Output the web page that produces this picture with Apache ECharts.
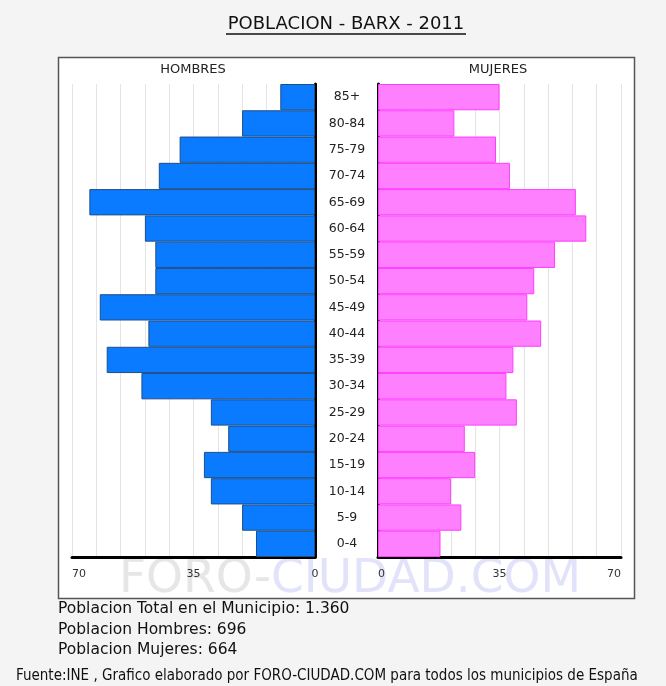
<!DOCTYPE html>
<html>
<head>
<meta charset="UTF-8">
<title>Poblacion Barx 2011</title>
<script src="https://cdn.jsdelivr.net/npm/echarts@6/dist/echarts.min.js"></script>
<style>
  html, body { margin: 0; padding: 0; background: #f4f4f4; }
  #chart { width: 666px; height: 686px; }
</style>
</head>
<body>
<div id="chart"></div>
<script>
// grupos de edad, de abajo (0-4) a arriba (85+)
var edades = ['0-4','5-9','10-14','15-19','20-24','25-29','30-34','35-39','40-44',
              '45-49','50-54','55-59','60-64','65-69','70-74','75-79','80-84','85+'];
var hombres = [17, 21, 30, 32, 25, 30, 50, 60, 48, 62, 46, 46, 49, 65, 45, 39, 21, 10];
var mujeres = [18, 24, 21, 28, 25, 40, 37, 39, 47, 43, 45, 51, 60, 57, 38, 34, 22, 35];
var ejeTicks = [0, 35, 70];

var totalH = 696, totalM = 664;
var fuente = 'DejaVu Sans';

var chart = echarts.init(document.getElementById('chart'));

function etiqueta(v) {
  return ejeTicks.indexOf(v) >= 0 ? String(v) : '';
}

var option = {
  backgroundColor: '#f4f4f4',
  animation: false,
  textStyle: { fontFamily: fuente },
  graphic: [
    // caja blanca del grafico
    { type: 'rect', z: -10, shape: { x: 58.5, y: 57.5, width: 576, height: 541 },
      style: { fill: '#fff', stroke: '#555', lineWidth: 1.5 } },
    // marca de agua
    { type: 'text', z: -5, left: 119, top: 556,
      style: { text: '{a|FORO-}{b|CIUDAD.COM}', rich: {
        a: { fontSize: 47, fontFamily: fuente, fill: '#e6e6e6' },
        b: { fontSize: 47, fontFamily: fuente, fill: '#e2e2fa' } } } },
    // titulo subrayado
    { type: 'text', x: 346, y: 24, style: { text: 'POBLACION - BARX - 2011', fontSize: 18,
      fontFamily: fuente, fill: '#111', align: 'center', verticalAlign: 'middle' } },
    { type: 'line', shape: { x1: 226, y1: 34, x2: 466, y2: 34 },
      style: { stroke: '#111', lineWidth: 1.5 } },
    { type: 'text', x: 193, y: 70, style: { text: 'HOMBRES', fontSize: 13, fontFamily: fuente,
      fill: '#222', align: 'center', verticalAlign: 'middle' } },
    { type: 'text', x: 498, y: 70, style: { text: 'MUJERES', fontSize: 13, fontFamily: fuente,
      fill: '#222', align: 'center', verticalAlign: 'middle' } },
    { type: 'text', x: 58, y: 609, style: { text: 'Poblacion Total en el Municipio: ' + '1.360',
      fontSize: 15.5, fontFamily: fuente, fill: '#111', verticalAlign: 'middle' } },
    { type: 'text', x: 58, y: 630, style: { text: 'Poblacion Hombres: ' + totalH,
      fontSize: 15.5, fontFamily: fuente, fill: '#111', verticalAlign: 'middle' } },
    { type: 'text', x: 58, y: 650, style: { text: 'Poblacion Mujeres: ' + totalM,
      fontSize: 15.5, fontFamily: fuente, fill: '#111', verticalAlign: 'middle' } },
    { type: 'text', x: 16, y: 676, style: {
      text: 'Fuente:INE , Grafico elaborado por FORO-CIUDAD.COM para todos los municipios de España',
      fontSize: 15, fontFamily: 'DejaVu Sans Condensed', fill: '#111', verticalAlign: 'middle' } }
  ],
  grid: [
    { left: 72, top: 84, width: 243, height: 473 },
    { left: 378, top: 84, width: 243, height: 473 }
  ],
  xAxis: [
    { gridIndex: 0, type: 'value', min: 0, max: 70, interval: 7, inverse: true,
      axisLine: { show: true, lineStyle: { color: '#000', width: 3 } },
      axisTick: { show: false },
      axisLabel: { formatter: etiqueta, fontSize: 11, color: '#333', margin: 12,
        showMinLabel: true, showMaxLabel: true, alignMaxLabel: 'left' },
      splitLine: { show: true, lineStyle: { color: '#e4e4e4', width: 1 } } },
    { gridIndex: 1, type: 'value', min: 0, max: 70, interval: 7,
      axisLine: { show: true, lineStyle: { color: '#000', width: 3 } },
      axisTick: { show: false },
      axisLabel: { formatter: etiqueta, fontSize: 11, color: '#333', margin: 12,
        showMinLabel: true, showMaxLabel: true, alignMinLabel: 'left', alignMaxLabel: 'right' },
      splitLine: { show: true, lineStyle: { color: '#e4e4e4', width: 1 } } }
  ],
  yAxis: [
    { gridIndex: 0, type: 'category', data: edades, position: 'right',
      axisLine: { show: true, onZero: false, lineStyle: { color: '#000', width: 3 } },
      axisTick: { show: false },
      axisLabel: { align: 'center', margin: 32, fontSize: 12.5, color: '#222' } },
    { gridIndex: 1, type: 'category', data: edades, position: 'left',
      axisLine: { show: true, onZero: false, lineStyle: { color: '#000', width: 3 } },
      axisTick: { show: false },
      axisLabel: { show: false } }
  ],
  series: [
    { name: 'Hombres', type: 'bar', xAxisIndex: 0, yAxisIndex: 0, data: hombres,
      barCategoryGap: 0, z: 3,
      itemStyle: { color: '#0a7bff', borderColor: '#1d4e87', borderWidth: 1 } },
    { name: 'Mujeres', type: 'bar', xAxisIndex: 1, yAxisIndex: 1, data: mujeres,
      barCategoryGap: 0, z: 3,
      itemStyle: { color: '#ff80ff', borderColor: '#ff3dff', borderWidth: 1 } }
  ]
};

chart.setOption(option);
</script>
</body>
</html>
